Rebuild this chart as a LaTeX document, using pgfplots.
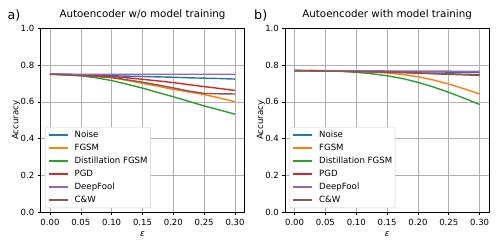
\documentclass[border=0pt]{standalone}
\usepackage{fontspec}
\setmainfont{DejaVu Sans}
\usepackage{pgfplots}
\usepackage{pgfplotstable}
\pgfplotsset{compat=1.18}
\definecolor{tabblue}{HTML}{1F77B4}
\definecolor{taborange}{HTML}{FF7F0E}
\definecolor{tabgreen}{HTML}{2CA02C}
\definecolor{tabred}{HTML}{D62728}
\definecolor{tabpurple}{HTML}{9467BD}
\definecolor{tabbrown}{HTML}{8C564B}
\definecolor{gridgray}{HTML}{B0B0B0}
\definecolor{leggray}{HTML}{CCCCCC}

% left panel: Autoencoder w/o model training
\pgfplotstableread{
eps    noise  fgsm   dist   pgd    deep   cw
0.000  0.752  0.751  0.751  0.752  0.752  0.750
0.025  0.749  0.747  0.747  0.749  0.751  0.747
0.050  0.746  0.743  0.742  0.746  0.750  0.743
0.075  0.744  0.738  0.731  0.742  0.750  0.738
0.100  0.742  0.733  0.716  0.738  0.750  0.732
0.125  0.740  0.717  0.696  0.731  0.750  0.720
0.150  0.738  0.701  0.675  0.723  0.750  0.707
0.175  0.736  0.685  0.651  0.714  0.750  0.692
0.200  0.734  0.668  0.628  0.705  0.750  0.676
0.225  0.731  0.654  0.603  0.694  0.750  0.659
0.250  0.729  0.640  0.578  0.683  0.750  0.646
0.275  0.727  0.621  0.556  0.673  0.750  0.644
0.300  0.724  0.601  0.533  0.662  0.750  0.643
}\lefttab

% right panel: Autoencoder with model training
\pgfplotstableread{
eps    noise  fgsm   dist   pgd    deep   cw
0.000  0.770  0.770  0.770  0.770  0.770  0.770
0.025  0.769  0.770  0.770  0.769  0.770  0.769
0.050  0.769  0.769  0.769  0.768  0.770  0.768
0.075  0.768  0.768  0.766  0.767  0.769  0.767
0.100  0.767  0.767  0.761  0.765  0.769  0.765
0.125  0.767  0.763  0.753  0.763  0.769  0.764
0.150  0.766  0.757  0.742  0.761  0.768  0.762
0.175  0.765  0.749  0.727  0.759  0.768  0.760
0.200  0.764  0.737  0.706  0.756  0.768  0.758
0.225  0.763  0.719  0.681  0.753  0.767  0.755
0.250  0.762  0.697  0.652  0.750  0.767  0.753
0.275  0.761  0.671  0.620  0.747  0.766  0.750
0.300  0.760  0.643  0.586  0.744  0.766  0.748
}\righttab

\pgfplotsset{
  myax/.style={
    scale only axis, width=203.6pt, height=184pt,
    xmin=-0.015, xmax=0.315, ymin=0, ymax=1,
    xtick={0,0.05,0.10,0.15,0.20,0.25,0.30},
    ytick={0,0.2,0.4,0.6,0.8,1.0},
    xticklabel style={/pgf/number format/.cd, fixed, fixed zerofill, precision=2},
    yticklabel style={/pgf/number format/.cd, fixed, fixed zerofill, precision=1},
    /pgf/number format/assume math mode=true,
    tick label style={font=\fontsize{8.5}{10}\selectfont},
    grid=major, major grid style={color=gridgray, line width=0.6pt},
    axis line style={line width=0.8pt},
    tick align=outside, major tick length=3pt, tick style={black, line width=0.6pt},
    xtick pos=bottom, ytick pos=left,
    title style={font=\fontsize{10.3}{12}\selectfont, anchor=base, at={(axis description cs:0.5,1)}, yshift=4.3pt},
    ylabel={Accuracy}, xlabel={\textit{ε}},
    label style={font=\fontsize{8.6}{10}\selectfont},
    ylabel style={at={(axis description cs:-0.1203,0.5)}, anchor=center},
    xlabel style={at={(axis description cs:0.5,0)}, anchor=base, yshift=-24.4pt},
    legend style={at={(axis description cs:0.021,0.023)}, anchor=south west,
      draw=leggray, rounded corners=2pt, fill=white,
      font=\fontsize{8.6}{10}\selectfont, row sep=5.2pt, column sep=6pt,
      inner xsep=3pt, inner ysep=3.8pt,
      nodes={inner sep=0pt, text height=6.2pt, text depth=1.6pt}},
    legend cell align=left,
    legend image code/.code={\draw[##1, line width=1.4pt] (0pt,0pt) -- (19pt,0pt);},
    every axis plot/.append style={line width=1.4pt, mark=none},
  }
}

\begin{document}
\begin{tikzpicture}
\useasboundingbox (0,0) rectangle (498pt,249pt);
\begin{axis}[myax, at={(40.7pt,36.7pt)}, anchor=south west,
  title={Autoencoder w/o model training}]
\addplot[tabblue] table[x=eps,y=noise] {\lefttab};
\addlegendentry{Noise}
\addplot[taborange] table[x=eps,y=fgsm] {\lefttab};
\addlegendentry{FGSM}
\addplot[tabgreen] table[x=eps,y=dist] {\lefttab};
\addlegendentry{Distillation FGSM}
\addplot[tabred] table[x=eps,y=pgd] {\lefttab};
\addlegendentry{PGD}
\addplot[tabpurple] table[x=eps,y=deep] {\lefttab};
\addlegendentry{DeepFool}
\addplot[tabbrown] table[x=eps,y=cw] {\lefttab};
\addlegendentry{C\&W}
\end{axis}
\begin{axis}[myax, at={(285.3pt,36.7pt)}, anchor=south west,
  title={Autoencoder with model training}]
\addplot[tabblue] table[x=eps,y=noise] {\righttab};
\addlegendentry{Noise}
\addplot[taborange] table[x=eps,y=fgsm] {\righttab};
\addlegendentry{FGSM}
\addplot[tabgreen] table[x=eps,y=dist] {\righttab};
\addlegendentry{Distillation FGSM}
\addplot[tabred] table[x=eps,y=pgd] {\righttab};
\addlegendentry{PGD}
\addplot[tabpurple] table[x=eps,y=deep] {\righttab};
\addlegendentry{DeepFool}
\addplot[tabbrown] table[x=eps,y=cw] {\righttab};
\addlegendentry{C\&W}
\end{axis}
\node[anchor=base west, inner sep=0pt, font=\fontsize{12.7}{15}\selectfont] at (7.3pt,229.7pt) {a)};
\node[anchor=base west, inner sep=0pt, font=\fontsize{12.7}{15}\selectfont] at (254pt,229.7pt) {b)};
\end{tikzpicture}
\end{document}
